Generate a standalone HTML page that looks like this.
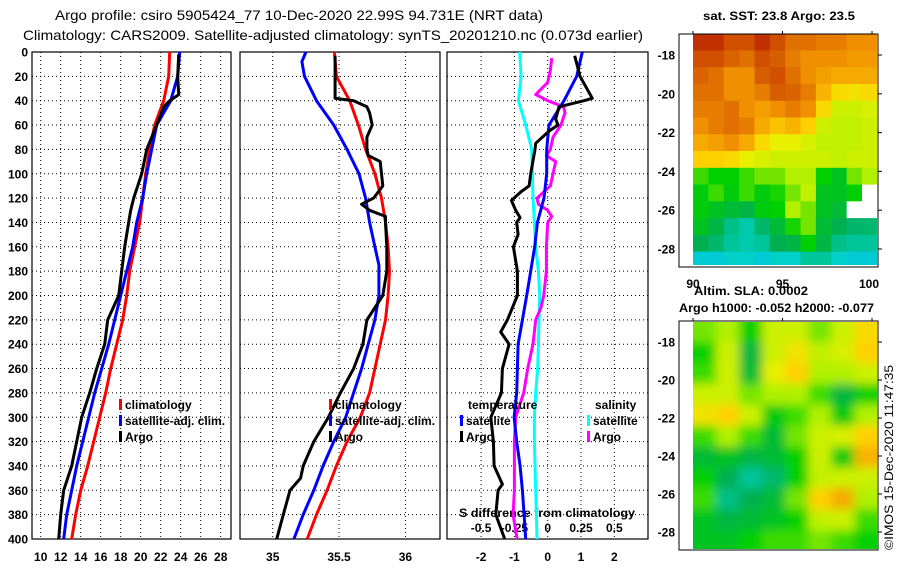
<!DOCTYPE html>
<html><head><meta charset="utf-8"><style>
html,body{margin:0;padding:0;background:#fff;}
svg{display:block;font-family:"Liberation Sans",sans-serif;}
.t{font-weight:bold;font-size:12px;fill:#000;}
</style></head><body>
<svg id="c" width="900" height="580" viewBox="0 0 900 580">
<defs>
<clipPath id="clipTop"><rect x="693" y="34" width="184" height="231"/></clipPath>
<clipPath id="clipBot"><rect x="693" y="322" width="184" height="227"/></clipPath>
<filter id="blur" x="-10%" y="-10%" width="120%" height="120%"><feGaussianBlur stdDeviation="5"/></filter>
</defs>
<text x="55" y="20" font-size="14" textLength="488" lengthAdjust="spacingAndGlyphs">Argo profile: csiro 5905424_77 10-Dec-2020 22.99S 94.731E (NRT data)</text>
<text x="23" y="40" font-size="14" textLength="620" lengthAdjust="spacingAndGlyphs">Climatology: CARS2009. Satellite-adjusted climatology: synTS_20201210.nc (0.073d earlier)</text>
<text class="t" x="703" y="20" textLength="152" lengthAdjust="spacingAndGlyphs">sat. SST: 23.8 Argo: 23.5</text>
<text class="t" x="694" y="295" textLength="114" lengthAdjust="spacingAndGlyphs">Altim. SLA: 0.0002</text>
<text class="t" x="679" y="312" textLength="195" lengthAdjust="spacingAndGlyphs">Argo h1000: -0.052 h2000: -0.077</text>
<text font-size="12" transform="translate(893,550) rotate(-90)" textLength="185" lengthAdjust="spacingAndGlyphs">©IMOS 15-Dec-2020 11:47:35</text>
<g id="plots"></g>
</svg>
<script>
// ---- profile data (depth in m) ----
const depthStd = [0,20,40,60,80,100,120,140,160,180,200,220,240,260,280,300,320,340,360,380,400];
const tempClim = [22.9,22.8,22.3,21.4,20.9,20.5,20.2,19.9,19.4,18.9,18.6,18.2,17.6,17.0,16.5,15.9,15.3,14.7,14.0,13.5,13.1];
const tempSat  = [23.9,23.7,23.0,21.6,21.1,20.6,20.2,19.6,19.2,18.6,18.0,17.4,16.8,16.1,15.4,14.8,14.2,13.6,13.1,12.6,12.3];
const tempArgoDepth = [2,20,35,40,45,60,70,80,100,120,130,140,160,180,200,220,240,260,280,300,320,340,360,380,400];
const tempArgo = [23.8,23.7,23.8,22.9,22.3,21.6,21.1,20.6,20.1,19.3,19.0,18.8,18.4,18.1,17.8,16.7,16.4,15.6,14.9,14.1,13.6,13.1,12.3,12.0,11.8];
const salClim = [35.465,35.48,35.58,35.646,35.70,35.77,35.82,35.85,35.87,35.88,35.87,35.85,35.81,35.77,35.73,35.66,35.56,35.48,35.41,35.33,35.26];
const salSatDepth = [0,8,20,40,60,80,100,120,140,160,175,200,220,240,260,280,300,320,340,360,380,400];
const salSat = [35.25,35.22,35.24,35.33,35.46,35.56,35.65,35.70,35.73,35.77,35.80,35.80,35.77,35.72,35.67,35.61,35.55,35.46,35.38,35.31,35.23,35.16];
const salArgoDepth = [3,20,38,40,45,50,60,70,80,85,90,100,110,120,125,130,135,140,160,180,200,220,240,260,280,300,320,340,350,360,380,400];
const salArgo = [35.47,35.47,35.47,35.61,35.71,35.73,35.75,35.71,35.71,35.72,35.81,35.82,35.83,35.76,35.67,35.73,35.85,35.85,35.86,35.86,35.83,35.71,35.68,35.61,35.51,35.42,35.31,35.23,35.21,35.13,35.08,35.03];
// differences from climatology
const dTempSat = [1.04,0.87,0.49,0.04,-0.03,-0.03,-0.11,-0.31,-0.39,-0.51,-0.63,-0.76,-0.89,-0.91,-0.93,-1.01,-0.93,-0.83,-0.76,-0.71,-0.66];
const dTempArgoDepth = [3,20,38,40,45,55,60,65,75,80,100,110,115,122,130,136,140,150,160,180,200,210,220,230,240,260,280,300,320,340,355,360,380,400];
const dTempArgo = [0.81,0.97,1.34,1.09,0.34,0.24,0.31,0.04,-0.36,-0.38,-0.51,-0.56,-0.81,-1.09,-0.96,-0.83,-0.93,-0.89,-1.03,-0.91,-0.91,-1.06,-1.21,-1.41,-1.16,-1.36,-1.39,-1.71,-1.63,-1.61,-1.36,-1.49,-1.56,-1.29];
const dSalSat = [-0.21,-0.20,-0.22,-0.165,-0.12,-0.115,-0.11,-0.10,-0.09,-0.07,-0.06,-0.065,-0.07,-0.075,-0.09,-0.10,-0.10,-0.095,-0.09,-0.085,-0.08];
const dSalArgoDepth = [5,15,25,35,40,45,50,60,70,80,85,90,100,110,120,125,130,135,140,160,180,200,210,220,240,260,280,300,320,340,360,380,400];
const dSalArgo = [0.03,0.02,0,-0.09,0,0.12,0.13,0.10,0.04,0.02,-0.01,0.06,0.04,0.02,-0.08,-0.07,0,0.03,0,-0.01,-0.01,-0.03,-0.05,-0.09,-0.11,-0.15,-0.18,-0.24,-0.25,-0.25,-0.25,-0.26,-0.23];
// tick labels
const depthTicks = [0,20,40,60,80,100,120,140,160,180,200,220,240,260,280,300,320,340,360,380,400];
const tempTicks = [10,12,14,16,18,20,22,24,26,28];
const salTicks = [35,35.5,36];
const diffTicks = [-2,-1,0,1,2];
const salDiffTicks = [-0.5,-0.25,0,0.25,0.5];
const latTicks = [-18,-20,-22,-24,-26,-28];
const lonTicks = [90,95,100];
// SST map grid (rows -17..-29 lat, cols 90..100 lon), normalized 0..1, -1 = missing
const sstGrid = [
[1.0,1.0,0.95,0.95,1.0,0.95,0.9,0.9,0.88,0.88,0.85,0.85],
[0.95,0.95,0.92,0.9,0.95,0.93,0.88,0.85,0.85,0.85,0.83,0.83],
[0.92,0.9,0.85,0.85,0.93,0.95,0.9,0.85,0.82,0.8,0.8,0.8],
[0.9,0.9,0.85,0.85,0.88,0.93,0.92,0.88,0.78,0.7,0.68,0.7],
[0.88,0.88,0.9,0.85,0.82,0.85,0.88,0.85,0.7,0.6,0.6,0.62],
[0.85,0.88,0.9,0.88,0.8,0.75,0.78,0.72,0.6,0.58,0.58,0.6],
[0.8,0.82,0.85,0.8,0.7,0.65,0.65,0.62,0.58,0.58,0.58,0.6],
[0.72,0.72,0.7,0.65,0.62,0.6,0.6,0.6,0.6,0.58,0.6,0.6],
[0.45,0.4,0.4,0.45,0.5,0.5,0.55,0.55,0.4,0.35,0.5,0.55],
[0.38,0.45,0.38,0.45,0.38,0.42,0.5,0.58,0.35,0.35,0.4,-1],
[0.38,0.35,0.32,0.3,0.38,0.4,0.55,0.5,0.35,0.32,-1,-1],
[0.35,0.3,0.22,0.18,0.25,0.32,0.42,0.5,0.32,0.28,0.25,0.25],
[0.28,0.25,0.2,0.18,0.2,0.28,0.3,0.4,0.3,0.22,0.2,0.2],
[0.12,0.12,0.15,0.15,0.12,0.15,0.15,0.2,0.2,0.15,0.12,0.12]];
const slaGrid = [
[0.5,0.55,0.4,0.6,0.6,0.5,0.6,0.7],
[0.4,0.6,0.3,0.6,0.68,0.58,0.62,0.72],
[0.45,0.6,0.32,0.65,0.72,0.55,0.55,0.6],
[0.6,0.6,0.5,0.55,0.55,0.45,0.3,0.4],
[0.68,0.72,0.6,0.38,0.45,0.55,0.38,0.55],
[0.45,0.55,0.45,0.32,0.5,0.6,0.62,0.72],
[0.32,0.35,0.3,0.32,0.4,0.6,0.38,0.78],
[0.4,0.28,0.2,0.25,0.4,0.58,0.6,0.6],
[0.45,0.22,0.28,0.32,0.5,0.72,0.8,0.55],
[0.35,0.3,0.32,0.35,0.4,0.58,0.6,0.45],
[0.35,0.35,0.4,0.45,0.45,0.5,0.45,0.4]];

const NS='http://www.w3.org/2000/svg';
const G=document.getElementById('plots');
function mk(tag,attrs,parent){const e=document.createElementNS(NS,tag);for(const k in attrs)e.setAttribute(k,attrs[k]);(parent||G).appendChild(e);return e;}
const Y0=52,Y1=539;
const yD=d=>Y0+d*(Y1-Y0)/400;
const xT=t=>40.7+(t-10)*10;
const xS=s=>272.7+(s-35)*132.7;
const xDf=v=>547.7+v*33.3;
const xSd=v=>547.7+v*133.2;
const panels=[[32,231],[240,440],[447,648]];

panels.forEach((p,i)=>{
  const xs = i===0?tempTicks.map(xT):i===1?salTicks.map(xS):diffTicks.map(xDf);
  depthTicks.forEach(d=>{const l=mk('line',{x1:p[0],x2:p[1],y1:yD(d),y2:yD(d),stroke:'#000','stroke-dasharray':'1,3','stroke-width':1});
    
    });
  xs.forEach(x=>{const l=mk('line',{x1:x,x2:x,y1:Y0,y2:Y1,stroke:'#000','stroke-dasharray':'1,3','stroke-width':1});
    
    });
  const r=mk('rect',{x:p[0],y:Y0,width:p[1]-p[0],height:Y1-Y0,fill:'none',stroke:'#000','stroke-width':1.2});
  
  
});
function txt(s,x,y,anchor,name,extra){const t=mk('text',Object.assign({x:x,y:y,'text-anchor':anchor||'start',class:'t'},extra||{}));t.textContent=s;
  
  return t;}
depthTicks.forEach(d=>txt(String(d),28,yD(d)+4.5,'end','depth-tick-label'));
tempTicks.forEach(t=>txt(String(t),xT(t),561,'middle','temp-tick-label'));
salTicks.forEach(s=>txt(String(s),xS(s),561,'middle','salinity-tick-label'));
diffTicks.forEach(v=>txt(String(v),xDf(v),561,'middle','diff-tick-label'));
salDiffTicks.forEach(v=>txt(String(v),xSd(v),532,'middle','sal-diff-tick-label'));
txt('S difference from climatology',459,517,'start','sal-diff-axis-title',{textLength:176,lengthAdjust:'spacingAndGlyphs'});

function line(depths,vals,xf,color,name){
  const pts=vals.map((v,i)=>xf(v).toFixed(1)+','+yD(depths[i]).toFixed(1)).join(' ');
  const l=mk('polyline',{points:pts,fill:'none',stroke:color,'stroke-width':3,'stroke-linejoin':'round'});
  
  
}
line(depthStd,tempClim,xT,'#ff0000','temp-climatology-line');
line(depthStd,tempSat,xT,'#0000ff','temp-satellite-line');
line(tempArgoDepth,tempArgo,xT,'#000','temp-argo-line');
line(depthStd,salClim,xS,'#ff0000','sal-climatology-line');
line(salSatDepth,salSat,xS,'#0000ff','sal-satellite-line');
line(salArgoDepth,salArgo,xS,'#000','sal-argo-line');
line(depthStd,dSalSat,xSd,'#00ffff','sal-diff-satellite-line');
line(dSalArgoDepth,dSalArgo,xSd,'#ff00ff','sal-diff-argo-line');
line(depthStd,dTempSat,xDf,'#0000ff','temp-diff-satellite-line');
line(dTempArgoDepth,dTempArgo,xDf,'#000','temp-diff-argo-line');

function legend(x,y,color,label,name){
  const r=mk('rect',{x:x,y:y-10,width:3,height:11,fill:color});
  
  
  txt(label,x+6,y,'start',name);
}
legend(119,409,'#ff0000','climatology','legend-climatology');
legend(119,425,'#0000ff','satellite-adj. clim.','legend-satellite-adj');
legend(119,441,'#000','Argo','legend-argo');
legend(329,409,'#ff0000','climatology','legend2-climatology');
legend(329,425,'#0000ff','satellite-adj. clim.','legend2-satellite-adj');
legend(329,441,'#000','Argo','legend2-argo');
txt('temperature',468,409,'start','legend-temperature-heading');
legend(460,425,'#0000ff','satellite','legend-temp-satellite');
legend(460,441,'#000','Argo','legend-temp-argo');
txt('salinity',595,409,'start','legend-salinity-heading');
legend(587,425,'#00ffff','satellite','legend-sal-satellite');
legend(587,441,'#ff00ff','Argo','legend-sal-argo');

const cstops=[[0,[0,180,255]],[0.15,[0,208,200]],[0.28,[0,176,80]],[0.4,[0,208,0]],[0.55,[176,240,0]],[0.65,[232,240,0]],[0.72,[255,208,0]],[0.85,[240,144,0]],[1,[192,48,0]]];
function cmap(v){if(v<0)return '#ffffff';for(let i=1;i<cstops.length;i++){if(v<=cstops[i][0]){const a=cstops[i-1],b=cstops[i],f=(v-a[0])/(b[0]-a[0]);const c=a[1].map((q,k)=>Math.round(q+(b[1][k]-q)*f));return 'rgb('+c.join(',')+')';}}return 'rgb(192,48,0)';}
const lonX=lo=>693+(lo-90)*17.9;
function map(grid,top,latY,clip,blur,name){
  const g=mk('g',{'clip-path':'url(#'+clip+')'});
  
  
  const inner=mk('g',blur?{filter:'url(#blur)'}:{},g);
  const rows=grid.length,cols=grid[0].length;
  const x0=lonX(90),x1=lonX(100.3),y0=latY(-16.9),y1=latY(-29);
  const cw=(x1-x0)/cols,ch=(y1-y0)/rows;
  const pad=blur?12:0;
  grid.forEach((row,r)=>row.forEach((v,c)=>{
    let x=x0+c*cw,y=y0+r*ch,w=cw+0.6,h=ch+0.6;
    if(blur){if(c===0){x-=pad;w+=pad;}if(c===cols-1)w+=pad;if(r===0){y-=pad;h+=pad;}if(r===rows-1)h+=pad;}
    const cell=mk('rect',{x:x,y:y,width:w,height:h,fill:cmap(v)},inner);
    
    
  }));
  const fr=mk('rect',{x:679,y:top[0],width:199,height:top[1]-top[0],fill:'none',stroke:'#000','stroke-width':1});
  
  
  latTicks.forEach(la=>{txt(String(la),675,latY(la)+4.5,'end','lat-tick-label');
    const tk=mk('line',{x1:878,x2:882,y1:latY(la),y2:latY(la),stroke:'#000'});
    
    });
  lonTicks.forEach(lo=>{const tk=mk('line',{x1:lonX(lo),x2:lonX(lo),y1:top[0]-3,y2:top[0],stroke:'#000'});
    
    });
}
const latTop=la=>55+(-18-la)*19.4;
const latBot=la=>342+(-18-la)*19;
map(sstGrid,[34,267],latTop,'clipTop',false,'sst-map');
map(slaGrid,[321,550],latBot,'clipBot',true,'sla-map');
lonTicks.forEach(lo=>txt(String(lo),lonX(lo)+(lo===100?-3:0),288,'middle','lon-tick-label',{'font-size':'13'}));
</script>
</body></html>
